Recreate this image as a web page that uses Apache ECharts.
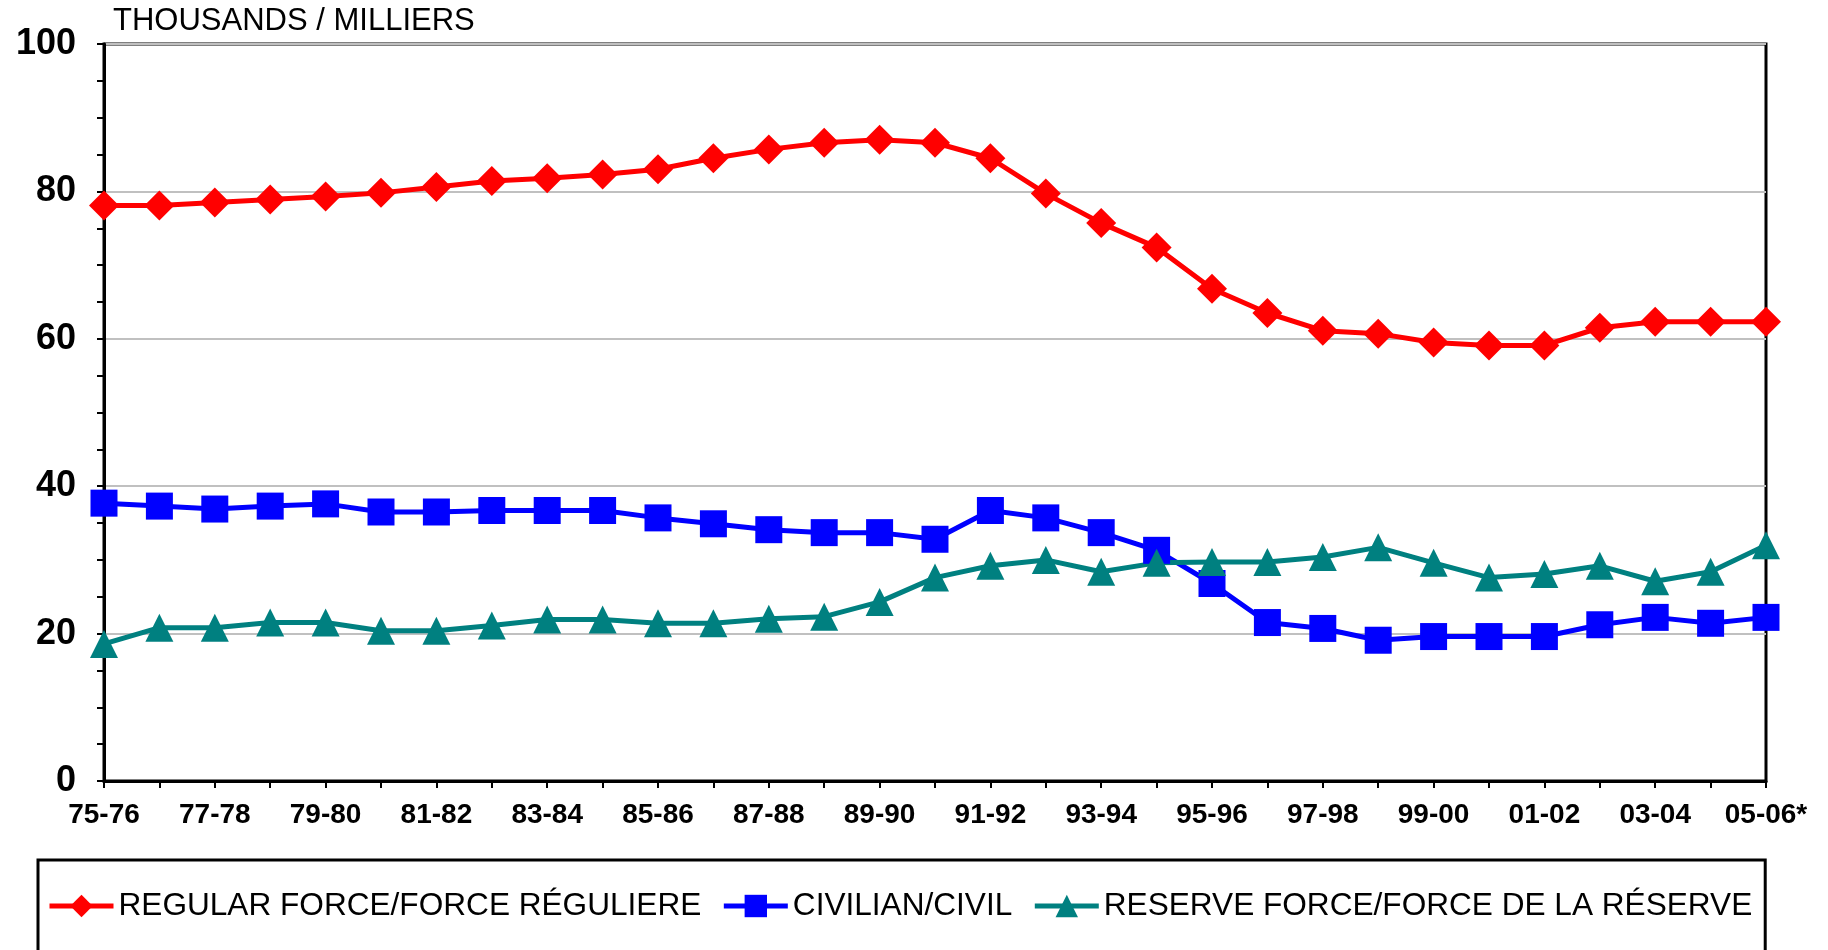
<!DOCTYPE html>
<html>
<head>
<meta charset="utf-8">
<script src="https://cdn.jsdelivr.net/npm/echarts@6/dist/echarts.min.js"></script>
<style>
  html, body { margin: 0; padding: 0; background: #fff; }
  #chart { width: 1828px; height: 950px; }
</style>
</head>
<body>
<div id="chart"></div>
<script>
// 年度标签（每两年显示一次）
const years = ['75-76', '76-77', '77-78', '78-79', '79-80', '80-81', '81-82', '82-83', '83-84', '84-85',
    '85-86', '86-87', '87-88', '88-89', '89-90', '90-91', '91-92', '92-93', '93-94', '94-95',
    '95-96', '96-97', '97-98', '98-99', '99-00', '00-01', '01-02', '02-03', '03-04', '04-05', '05-06*'];

// 人数（千人）
const regularForce = [78.1, 78.1, 78.5, 78.9, 79.3, 79.8, 80.6, 81.4, 81.8, 82.3,
    83.0, 84.5, 85.7, 86.6, 87.0, 86.6, 84.5, 79.7, 75.7, 72.4,
    66.8, 63.5, 61.1, 60.7, 59.5, 59.1, 59.1, 61.5, 62.3, 62.3, 62.3];
const civilian = [37.7, 37.3, 36.9, 37.3, 37.6, 36.5, 36.5, 36.7, 36.7, 36.7,
    35.7, 34.9, 34.1, 33.7, 33.7, 32.8, 36.7, 35.7, 33.7, 31.3,
    26.8, 21.5, 20.7, 19.1, 19.6, 19.6, 19.6, 21.2, 22.2, 21.4, 22.2];
const reserveForce = [18.6, 20.8, 20.8, 21.5, 21.5, 20.4, 20.4, 21.1, 21.9, 21.9,
    21.4, 21.4, 22.0, 22.3, 24.3, 27.6, 29.2, 30.0, 28.4, 29.6,
    29.7, 29.7, 30.4, 31.7, 29.6, 27.6, 28.1, 29.2, 27.1, 28.4, 32.0];

const seriesNames = ['REGULAR FORCE/FORCE RÉGULIERE', 'CIVILIAN/CIVIL', 'RESERVE FORCE/FORCE DE LA RÉSERVE'];

const font = 'Liberation Sans, Arial, sans-serif';
const chart = echarts.init(document.getElementById('chart'));

function makeLine(name, data, color, symbol, size) {
    return {
        name: name,
        type: 'line',
        data: data,
        symbol: symbol,
        symbolSize: size,
        lineStyle: { color: color, width: 5 },
        itemStyle: { color: color },
        animation: false
    };
}

const option = {
    backgroundColor: '#fff',
    title: {
        text: 'THOUSANDS / MILLIERS',
        left: 113,
        top: 6,
        padding: 0,
        textStyle: { fontFamily: font, fontSize: 31, fontWeight: 'normal', color: '#000' }
    },
    legend: {
        data: seriesNames,
        left: 38,
        top: 860,
        padding: [30, 13, 60, 9],
        itemWidth: 64,
        itemHeight: 28,
        itemGap: 20,
        lineStyle: { width: 5 },
        borderColor: '#000',
        borderWidth: 3,
        textStyle: { fontFamily: font, fontSize: 31.6, color: '#000' }
    },
    grid: {
        left: 104,
        right: 62,
        top: 44,
        bottom: 169,
        show: true,
        borderColor: '#000',
        borderWidth: 3
    },
    xAxis: {
        type: 'category',
        data: years,
        boundaryGap: false,
        axisLine: { lineStyle: { color: '#000', width: 3 } },
        axisTick: { interval: 0, length: 7, lineStyle: { color: '#000', width: 2 } },
        axisLabel: {
            interval: 1,
            margin: 20,
            fontFamily: font,
            fontSize: 28,
            fontWeight: 'bold',
            color: '#000'
        }
    },
    yAxis: {
        type: 'value',
        min: 0,
        max: 100,
        interval: 20,
        axisLine: { show: true, lineStyle: { color: '#000', width: 3 } },
        axisTick: { show: true, length: 7, lineStyle: { color: '#000', width: 2 } },
        minorTick: { show: true, splitNumber: 4, length: 7, lineStyle: { color: '#000', width: 2 } },
        splitLine: { lineStyle: { color: '#c0c0c0', width: 2 } },
        axisLabel: {
            margin: 28,
            fontFamily: font,
            fontSize: 36,
            fontWeight: 'bold',
            color: '#000'
        }
    },
    series: [
        makeLine(seriesNames[0], regularForce, '#ff0000', 'diamond', 30),
        makeLine(seriesNames[1], civilian, '#0000ff', 'rect', 27),
        makeLine(seriesNames[2], reserveForce, '#008080', 'triangle', 28)
    ]
};

chart.setOption(option);
window.addEventListener('resize', function() {
    chart.resize();
});
</script>
</body>
</html>
